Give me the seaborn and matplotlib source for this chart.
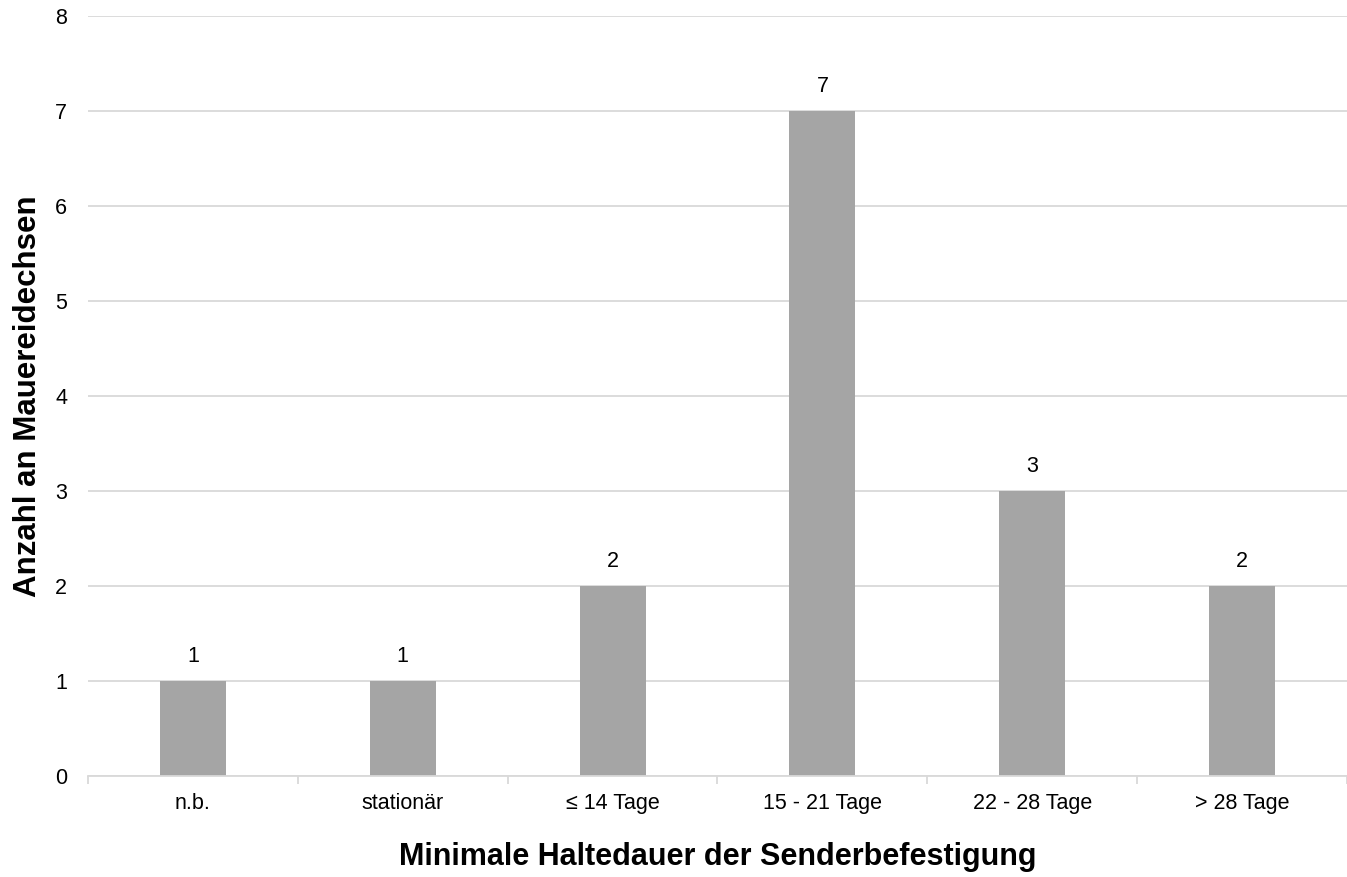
import matplotlib
matplotlib.use("Agg")
import matplotlib.pyplot as plt
import seaborn as sns
import pandas as pd
import numpy as np

categories = ["n.b.", "stationär", "≤ 14 Tage", "15 - 21 Tage", "22 - 28 Tage", "> 28 Tage"]
counts = [1, 1, 2, 7, 3, 2]
y_ticks = [0, 1, 2, 3, 4, 5, 6, 7, 8]

sns.set_theme(style="white")
plt.rcParams["font.family"] = ["Liberation Sans", "DejaVu Sans"]

df = pd.DataFrame({"Kategorie": categories, "Anzahl": counts})

fig = plt.figure(figsize=(13.47, 8.77), dpi=100)
ax = fig.add_axes([0.0653, 0.1152, 0.9347, 0.8666])

sns.barplot(data=df, x="Kategorie", y="Anzahl", color="#A5A5A5",
            saturation=1, width=0.315, linewidth=0, edgecolor="none",
            ax=ax, zorder=3)

ax.set_ylim(0, 8)
ax.set_xlim(-0.5, len(categories) - 0.5)
ax.set_yticks(y_ticks)
ax.yaxis.grid(True, color="#D9D9D9", linewidth=1.3, zorder=0)
ax.set_axisbelow(True)

for s in ["top", "right", "left"]:
    ax.spines[s].set_visible(False)
ax.spines["bottom"].set_color("#D9D9D9")
ax.spines["bottom"].set_linewidth(1.3)
ax.spines["bottom"].set_zorder(4)

# category labels centred, tick marks at the category boundaries
ax.set_xticks(np.arange(len(categories)))
ax.set_xticklabels(categories)
ax.tick_params(axis="x", which="major", bottom=False, length=0, pad=12,
               labelsize=15.5, colors="#000000")
ax.set_xticks(np.arange(len(categories) + 1) - 0.5, minor=True)
ax.tick_params(axis="x", which="minor", bottom=True, length=6, width=1.3,
               color="#D9D9D9", direction="out")
ax.tick_params(axis="y", length=0, pad=15, labelsize=15.5, colors="#000000")

for i, v in enumerate(counts):
    ax.annotate(str(v), (i, v), xytext=(0, 10), textcoords="offset points",
                ha="center", va="bottom", fontsize=15.5, color="#000000")

ax.set_xlabel("Minimale Haltedauer der Senderbefestigung", fontsize=22,
              fontweight="bold", color="#000000")
ax.xaxis.set_label_coords(0.5, -0.1066)
ax.xaxis.label.set_va("center")
ax.set_ylabel("Anzahl an Mauereidechsen", fontsize=22.5, fontweight="bold",
              color="#000000")
ax.yaxis.set_label_coords(-0.048, 0.5)
ax.yaxis.label.set_va("center")

fig.savefig("out.png", dpi=100)
